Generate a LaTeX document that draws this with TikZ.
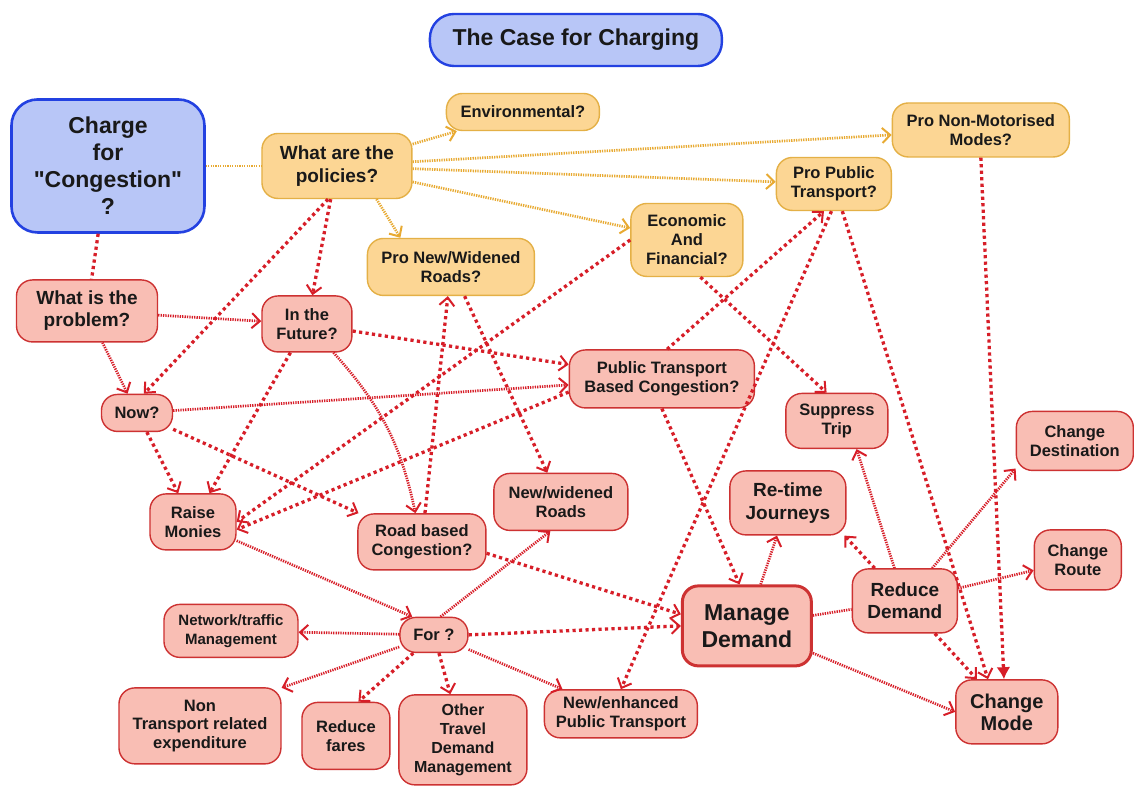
\documentclass[tikz,border=0pt]{standalone}
\usepackage{fontspec}
\setmainfont{Liberation Sans}[Ligatures=TeXOff]
\usetikzlibrary{arrows.meta}
\definecolor{boxblue}{RGB}{184,198,247}
\definecolor{lineblue}{RGB}{35,65,225}
\definecolor{boxorange}{RGB}{252,214,148}
\definecolor{lineorange}{RGB}{228,176,70}
\definecolor{boxred}{RGB}{249,190,180}
\definecolor{linered}{RGB}{205,50,50}
\definecolor{edgered}{RGB}{215,30,40}
\definecolor{edgeorange}{RGB}{232,170,50}
\begin{document}
\begin{tikzpicture}[x=1pt,y=-1pt,
    box/.style={draw,rounded corners=16pt,align=center,inner sep=1pt,text=black!90,
      font=\bfseries\fontsize{16.5}{19}\selectfont,line width=1.4pt},
    bluebox/.style={box,fill=boxblue,draw=lineblue,line width=2.4pt},
    orangebox/.style={box,fill=boxorange,draw=lineorange},
    redbox/.style={box,fill=boxred,draw=linered},
    finedot/.style={line width=2.7pt,dash pattern=on 1.3pt off 1.1pt},
    bigdot/.style={line width=3.3pt,dash pattern=on 3.2pt off 3.3pt},
    redline/.style={draw=edgered},
    orangeline/.style={draw=edgeorange},
    arr/.style={-{Straight Barb[length=8pt,width=15pt,line width=2pt]}}]

    \fill[white] (0,0) rectangle (1134,785);

    \node[bluebox,minimum width=292pt,minimum height=52pt,rounded corners=24pt,font=\bfseries\fontsize{23}{27}\selectfont] (title) at (576,40) {The Case for Charging};
    \node[bluebox,minimum width=193pt,minimum height=133pt,rounded corners=26pt,line width=2.6pt,font=\bfseries\fontsize{23}{27}\selectfont] (charge) at (108,166) {Charge\\for\\"Congestion"\\?};

    \node[orangebox,minimum width=150pt,minimum height=65pt,font=\bfseries\fontsize{19}{23}\selectfont] (policies) at (337,166) {What are the\\policies?};
    \node[orangebox,minimum width=153pt,minimum height=37pt] (env) at (523,112) {Environmental?};
    \node[orangebox,minimum width=177pt,minimum height=54pt] (nonmot) at (981,130) {Pro Non-Motorised\\Modes?};
    \node[orangebox,minimum width=115pt,minimum height=53pt] (propt) at (834,184) {Pro Public\\Transport?};
    \node[orangebox,minimum width=112pt,minimum height=73pt] (econ) at (687,240) {Economic\\And\\Financial?};
    \node[orangebox,minimum width=167pt,minimum height=57pt] (roads) at (451,267) {Pro New/Widened\\Roads?};

    \node[redbox,minimum width=141pt,minimum height=62pt,font=\bfseries\fontsize{19}{22}\selectfont] (problem) at (87,311) {What is the\\problem?};
    \node[redbox,minimum width=90pt,minimum height=56pt] (future) at (307,324) {In the\\Future?};
    \node[redbox,minimum width=71pt,minimum height=37pt] (now) at (137,413) {Now?};
    \node[redbox,minimum width=185pt,minimum height=58pt] (ptcong) at (662,379) {Public Transport\\Based Congestion?};
    \node[redbox,minimum width=102pt,minimum height=55pt] (suppress) at (837,421) {Suppress\\Trip};
    \node[redbox,minimum width=117pt,minimum height=59pt] (changedest) at (1075,441) {Change\\Destination};
    \node[redbox,minimum width=116pt,minimum height=64pt,font=\bfseries\fontsize{19}{23}\selectfont] (retime) at (788,503) {Re-time\\Journeys};
    \node[redbox,minimum width=134pt,minimum height=57pt] (newroads) at (561,502) {New/widened\\Roads};
    \node[redbox,minimum width=86pt,minimum height=56pt] (raise) at (193,522) {Raise\\Monies};
    \node[redbox,minimum width=128pt,minimum height=56pt] (roadcong) at (422,542) {Road based\\Congestion?};
    \node[redbox,minimum width=87pt,minimum height=60pt] (changeroute) at (1078,560) {Change\\Route};
    \node[redbox,minimum width=105pt,minimum height=64pt,font=\bfseries\fontsize{19}{22}\selectfont] (reduce) at (905,601) {Reduce\\Demand};
    \node[redbox,minimum width=129pt,minimum height=80pt,line width=3pt,font=\bfseries\fontsize{23}{27}\selectfont] (manage) at (747,626) {Manage\\Demand};
    \node[redbox,minimum width=134pt,minimum height=53pt,font=\bfseries\fontsize{15}{19}\selectfont] (network) at (231,631) {Network/traffic\\Management};
    \node[redbox,minimum width=68pt,minimum height=35pt] (forq) at (434,635) {For ?};
    \node[redbox,minimum width=162pt,minimum height=76pt,font=\bfseries\fontsize{16.5}{18.5}\selectfont] (nontrans) at (200,726) {Non\\Transport related\\expenditure};
    \node[redbox,minimum width=88pt,minimum height=67pt] (fares) at (346,736) {Reduce\\fares};
    \node[redbox,minimum width=128pt,minimum height=90pt,font=\bfseries\fontsize{16}{18.7}\selectfont] (otd) at (463,740) {Other\\Travel\\Demand\\Management};
    \node[redbox,minimum width=153pt,minimum height=48pt] (newpt) at (621,714) {New/enhanced\\Public Transport};
    \node[redbox,minimum width=102pt,minimum height=64pt,font=\bfseries\fontsize{20}{22}\selectfont] (changemode) at (1007,712) {Change\\Mode};

    \draw[finedot,orangeline] (charge) -- (policies);
    \draw[finedot,orangeline,arr] (policies) -- (env);
    \draw[finedot,orangeline,arr] (policies) -- (nonmot);
    \draw[finedot,orangeline,arr] (policies) -- (propt);
    \draw[finedot,orangeline,arr] (policies) -- (econ);
    \draw[finedot,orangeline,arr] (policies.320) -- (roads.150);

    \draw[bigdot,redline] (charge) -- (problem);
    \draw[bigdot,redline,arr] (policies) -- (future);
    \draw[bigdot,redline,arr] (policies.255) -- (now.70);
    \draw[finedot,redline,arr] (problem) -- (future);
    \draw[finedot,redline,arr] (problem) -- (now);
    \draw[bigdot,redline,arr] (future) -- (ptcong);
    \draw[bigdot,redline,arr] (future) -- (raise);
    \draw[finedot,redline,arr] (future) to[bend left=15] (roadcong);
    \draw[finedot,redline,arr] (now) -- (ptcong);
    \draw[bigdot,redline,arr] (now) -- (roadcong);
    \draw[bigdot,redline,arr] (now) -- (raise);
    \draw[bigdot,redline,arr] (econ.west) -- (raise.east);
    \draw[bigdot,redline,arr] (ptcong.188) -- (raise.350);
    \draw[bigdot,redline,arr] (roadcong) -- (roads);
    \draw[bigdot,redline,arr] (roads) -- (newroads);
    \draw[bigdot,redline,arr] (econ.290) -- (suppress.110);
    \draw[bigdot,redline,arr] (ptcong.80) -- (propt.250);
    \draw[bigdot,redline,arr] (ptcong.south) -- (manage.100);
    \draw[bigdot,redline,arr] (propt.265) -- (newpt.north);
    \draw[bigdot,redline,arr] (propt) -- (changemode.120);
    \draw[bigdot,redline,-{Latex[length=12pt,width=14pt]}] (nonmot.south) -- (changemode.95);
    \draw[finedot,redline,arr] (raise) -- (forq.140);
    \draw[bigdot,redline,arr] (roadcong.350) -- (manage.170);
    \draw[bigdot,redline,arr] (forq.east) -- (manage.west);
    \draw[finedot,redline,arr] (forq.70) -- (newroads.250);
    \draw[finedot,redline,arr] (forq) -- (network);
    \draw[finedot,redline,arr] (forq) -- (nontrans.25);
    \draw[bigdot,redline,arr] (forq) -- (fares.70);
    \draw[bigdot,redline,arr] (forq) -- (otd);
    \draw[finedot,redline,arr] (forq) -- (newpt);
    \draw[finedot,redline,arr] (manage) -- (retime);
    \draw[finedot,redline] (manage) -- (reduce);
    \draw[finedot,redline,arr] (manage) -- (changemode.west);
    \draw[bigdot,redline,arr] (reduce) -- (retime.330);
    \draw[finedot,redline,arr] (reduce) -- (suppress.305);
    \draw[finedot,redline,arr] (reduce) -- (changedest.205);
    \draw[finedot,redline,arr] (reduce) -- (changeroute);
    \draw[bigdot,redline,arr] (reduce) -- (changemode);
\end{tikzpicture}
\end{document}
